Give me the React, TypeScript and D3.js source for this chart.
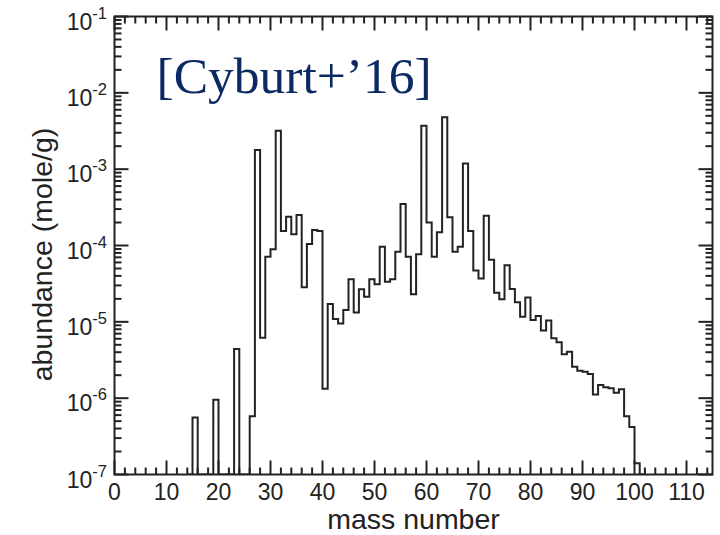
import React from "react";
import * as d3 from "d3";

const massNumbers: number[] = d3.range(14, 102);
const abundances: number[] = [
  0, 5.6e-7, 0, 0, 0, 9.5e-7, 0, 0, 0, 4.4e-6, // 14-23
  0, 0, 5.8e-7, 1.78e-3, 6.2e-6, 7.1e-5, 8.9e-5, 3.19e-3, 1.55e-4, 2.38e-4, // 24-33
  1.4e-4, 2.51e-4, 2.83e-5, 1.05e-4, 1.6e-4, 1.55e-4, 1.33e-6, 1.71e-5, 1.09e-5, 9.5e-6, // 34-43
  1.43e-5, 3.6e-5, 1.33e-5, 2.67e-5, 2.13e-5, 3.6e-5, 3.1e-5, 9.6e-5, 3.36e-5, 3.6e-5, // 44-53
  8.3e-5, 3.5e-4, 7.1e-5, 2.29e-5, 7.7e-5, 3.7e-3, 2.0e-4, 7.1e-5, 1.49e-4, 4.78e-3, // 54-63
  2.34e-4, 8.3e-5, 9.6e-5, 1.19e-3, 1.55e-4, 4.7e-5, 3.7e-5, 2.46e-4, 6.5e-5, 2.41e-5, // 64-73
  1.97e-5, 5.5e-5, 2.69e-5, 1.8e-5, 1.17e-5, 2.09e-5, 1.06e-5, 1.19e-5, 7.7e-6, 1.04e-5, // 74-83
  6.1e-6, 5.4e-6, 3.75e-6, 4.06e-6, 2.58e-6, 2.29e-6, 2.22e-6, 2.07e-6, 1.12e-6, 1.49e-6, // 84-93
  1.39e-6, 1.35e-6, 1.18e-6, 1.31e-6, 5.8e-7, 4.2e-7, 1.4e-7, 0, // 94-101
];

const xTickValues: number[] = d3.range(0, 111, 10);
const yDecadeExponents: number[] = [-7, -6, -5, -4, -3, -2, -1];
const xTitle = "mass number";
const yTitle = "abundance (mole/g)";
const annotation = "[Cyburt+\u201916]";

export default function App() {
  const W = 720, H = 535;
  const left = 114.5, right = 712.5, top = 16.5, bottom = 474.5;
  const x = d3.scaleLinear().domain([0, 115]).range([left, right]);
  const y = d3.scaleLog().domain([1e-7, 1e-1]).range([bottom, top]);
  const yMin = 1e-7;

  const pts: [number, number][] = massNumbers.map((a, i) => [a, abundances[i]]);
  pts.push([massNumbers[massNumbers.length - 1] + 1, abundances[abundances.length - 1]]);
  const line = d3
    .line<[number, number]>()
    .x((d) => x(d[0]))
    .y((d) => y(Math.max(d[1], yMin)))
    .curve(d3.curveStepAfter);

  const xMinor = d3.range(0, 115.01, 2).filter((v) => v % 10 !== 0);
  const yMinor: number[] = [];
  for (const e of yDecadeExponents.slice(0, -1)) {
    for (let m = 2; m <= 9; m++) yMinor.push(m * Math.pow(10, e));
  }

  const majorLen = 14, minorLen = 7;
  const font = "'Liberation Sans', Arial, Helvetica, sans-serif";
  const stroke = "#222";

  return (
    <svg width={W} height={H} style={{ position: "absolute", left: 0, top: 0, background: "#fff" }}>
      <defs>
        <clipPath id="plotclip">
          <rect x={left} y={top} width={right - left} height={bottom - top} />
        </clipPath>
      </defs>
      <path d={line(pts) || ""} fill="none" stroke={stroke} strokeWidth={2} clipPath="url(#plotclip)" />
      {xTickValues.map((v) => (
        <g key={"xt" + v}>
          <line x1={x(v)} x2={x(v)} y1={bottom} y2={bottom - majorLen} stroke={stroke} strokeWidth={2} />
          <line x1={x(v)} x2={x(v)} y1={top} y2={top + majorLen} stroke={stroke} strokeWidth={2} />
        </g>
      ))}
      {xMinor.map((v) => (
        <g key={"xm" + v}>
          <line x1={x(v)} x2={x(v)} y1={bottom} y2={bottom - minorLen} stroke={stroke} strokeWidth={2} />
          <line x1={x(v)} x2={x(v)} y1={top} y2={top + minorLen} stroke={stroke} strokeWidth={2} />
        </g>
      ))}
      {yDecadeExponents.map((e) => (
        <g key={"yt" + e}>
          <line x1={left} x2={left + majorLen} y1={y(Math.pow(10, e))} y2={y(Math.pow(10, e))} stroke={stroke} strokeWidth={2} />
          <line x1={right} x2={right - majorLen} y1={y(Math.pow(10, e))} y2={y(Math.pow(10, e))} stroke={stroke} strokeWidth={2} />
        </g>
      ))}
      {yMinor.map((v, i) => (
        <g key={"ym" + i}>
          <line x1={left} x2={left + minorLen} y1={y(v)} y2={y(v)} stroke={stroke} strokeWidth={2} />
          <line x1={right} x2={right - minorLen} y1={y(v)} y2={y(v)} stroke={stroke} strokeWidth={2} />
        </g>
      ))}
      <rect x={left} y={top} width={right - left} height={bottom - top} fill="none" stroke={stroke} strokeWidth={2} />
      {xTickValues.map((v) => (
        <text key={"xl" + v} x={x(v)} y={500} textAnchor="middle" fontFamily={font} fontSize={23} fill="#222">
          {v}
        </text>
      ))}
      {yDecadeExponents.map((e) => (
        <text key={"yl" + e} x={107} y={y(Math.pow(10, e)) + 13} textAnchor="end" fontFamily={font} fontSize={23} fill="#222">
          10
          <tspan fontSize={16.5} dy={-10.7}>{String(e)}</tspan>
        </text>
      ))}
      <text x={(left + right) / 2} y={529} textAnchor="middle" fontFamily={font} fontSize={28.5} fill="#222">
        {xTitle}
      </text>
      <text
        transform={`translate(52, ${(top + bottom) / 2 + 9}) rotate(-90)`}
        textAnchor="middle"
        fontFamily={font}
        fontSize={28.5}
        fill="#222"
      >
        {yTitle}
      </text>
      <text x={156.5} y={93} fontFamily="'Liberation Serif', 'DejaVu Serif', serif" fontSize={51.5} fill="#0b2a63">
        {annotation}
      </text>
    </svg>
  );
}
